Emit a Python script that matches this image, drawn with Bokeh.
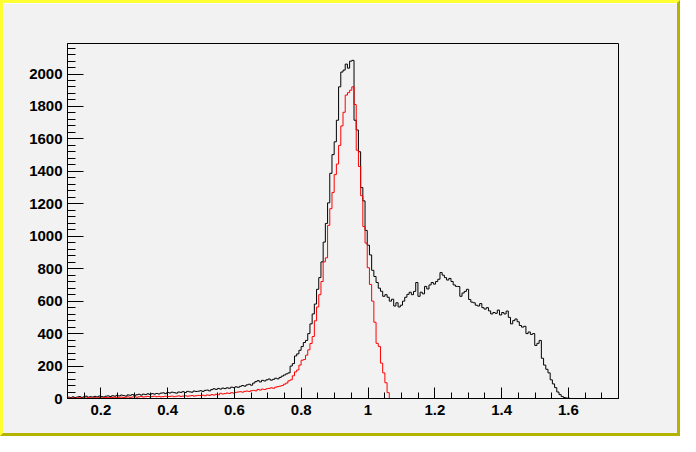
from bokeh.plotting import figure
from bokeh.models import Range1d, FixedTicker, CustomJSTickFormatter
from bokeh.embed import file_html
from bokeh.resources import INLINE
import numpy as np

# ---- data -------------------------------------------------------------
x_lo, x_hi = 0.1, 1.75
y_max = 2188

black_counts = [
    8, 5, 10, 6, 9, 12, 7, 10, 14, 8, 11, 9, 13, 10, 15, 12, 9, 14, 16, 12,
    17, 14, 19, 16, 21, 18, 15, 22, 20, 24, 19, 23, 26, 21, 27, 24, 29, 25, 30, 27,
    31, 28, 33, 35, 30, 37, 34, 39, 36, 33, 40, 38, 42, 37, 44, 41, 39, 46, 43, 45,
    48, 44, 50, 52, 47, 55, 60, 56, 62, 58, 64, 61, 66, 63, 70, 67, 72, 69, 75, 80,
    76, 84, 88, 82, 95, 104, 110, 102, 112, 108, 115, 120, 113, 118, 125, 121, 130, 138, 145, 152,
    158, 200, 215, 262, 275, 297, 320, 345, 358, 400, 460, 521, 582, 673, 745, 842, 964, 1079, 1206, 1388,
    1503, 1582, 1715, 1921, 2012, 2024, 2061, 2036, 2079, 2084, 1715, 1655, 1521, 1300, 1218, 1036, 945, 885, 790, 752,
    715, 680, 661, 630, 640, 624, 600, 612, 570, 590, 564, 575, 600, 624, 642, 655, 640, 660, 715, 630,
    655, 645, 691, 675, 700, 715, 705, 721, 735, 776, 760, 745, 730, 740, 721, 700, 691, 690, 630, 650,
    660, 673, 610, 594, 590, 575, 570, 585, 560, 551, 560, 540, 521, 530, 525, 545, 515, 530, 521, 539,
    500, 460, 480, 490, 473, 450, 440, 445, 400, 410, 395, 400, 327, 340, 358, 248, 206, 180, 158, 115,
    90, 67, 40, 24, 12, 6, 3, 2, 0, 0, 0, 0, 0, 0, 0, 0, 0, 0, 0, 0,
    0, 0, 0, 0, 0, 0, 0, 0, 0, 0,
]

red_counts = [
    3, 2, 4, 1, 3, 5, 2, 4, 3, 6, 4, 2, 5, 3, 6, 4, 5, 7, 5, 6,
    6, 8, 5, 7, 9, 6, 8, 10, 7, 9, 11, 8, 10, 12, 9, 11, 13, 10, 12, 14,
    11, 13, 10, 12, 14, 12, 13, 15, 11, 14, 16, 13, 15, 17, 14, 16, 18, 15, 17, 19,
    18, 20, 17, 22, 19, 24, 21, 26, 23, 32, 28, 30, 34, 31, 36, 33, 38, 40, 42, 39,
    44, 46, 43, 48, 50, 47, 56, 52, 58, 55, 60, 62, 66, 63, 70, 73, 76, 80, 88, 95,
    109, 115, 140, 164, 176, 206, 236, 240, 267, 300, 339, 382, 479, 564, 640, 721, 842, 867, 1067, 1170,
    1270, 1380, 1445, 1560, 1680, 1764, 1870, 1885, 1900, 1921, 1812, 1530, 1430, 1250, 1060, 958, 806, 703, 600, 470,
    340, 321, 218, 158, 97, 36, 0, 0, 0, 0, 0, 0, 0, 0, 0, 0, 0, 0, 0, 0,
    0, 0, 0, 0, 0, 0, 0, 0, 0, 0, 0, 0, 0, 0, 0, 0, 0, 0, 0, 0,
    0, 0, 0, 0, 0, 0, 0, 0, 0, 0, 0, 0, 0, 0, 0, 0, 0, 0, 0, 0,
    0, 0, 0, 0, 0, 0, 0, 0, 0, 0, 0, 0, 0, 0, 0, 0, 0, 0, 0, 0,
    0, 0, 0, 0, 0, 0, 0, 0, 0, 0, 0, 0, 0, 0, 0, 0, 0, 0, 0, 0,
    0, 0, 0, 0, 0, 0, 0, 0, 0, 0,
]

x_ticks = [0.2, 0.4, 0.6, 0.8, 1.0, 1.2, 1.4, 1.6]
x_minor = [round(0.1 + 0.05 * i, 2) for i in range(34)]
y_ticks = [0, 200, 400, 600, 800, 1000, 1200, 1400, 1600, 1800, 2000]
y_minor = [40 * i for i in range(55)]

# ---- figure -----------------------------------------------------------
nb = len(black_counts)
edges = np.linspace(x_lo, x_hi, nb + 1)

bg = "#f2f2f2"
p = figure(width=680, height=436, output_backend="svg", toolbar_location=None,
           x_range=Range1d(x_lo, x_hi), y_range=Range1d(0, y_max),
           min_border_left=64, min_border_right=65, min_border_top=40, min_border_bottom=41)
p.background_fill_color = bg
p.border_fill_color = bg
p.outline_line_color = "black"
p.outline_line_width = 1
p.grid.visible = False
p.styles = {"border-style": "solid", "border-width": "3px",
            "border-color": "#ffff33 #b3b300 #b3b300 #ffff33",
            "box-sizing": "border-box"}

p.step(x=edges, y=list(black_counts) + [black_counts[-1]], mode="after",
       line_color="black", line_width=1)
p.step(x=edges, y=list(red_counts) + [red_counts[-1]], mode="after",
       line_color="#ff0000", line_width=1)

fmt = CustomJSTickFormatter(code="return String(Math.round(tick*100)/100);")
for ax, ticks, minor, tin, mtin in ((p.xaxis[0], x_ticks, x_minor, 11, 6),
                                    (p.yaxis[0], y_ticks, y_minor, 16, 8)):
    ax.ticker = FixedTicker(ticks=ticks, minor_ticks=minor)
    ax.major_tick_in = tin
    ax.major_tick_out = 0
    ax.minor_tick_in = mtin
    ax.minor_tick_out = 0
    ax.major_label_text_font = "Liberation Sans"
    ax.major_label_text_font_style = "bold"
    ax.major_label_text_font_size = "15px"
    ax.major_label_text_color = "black"
    ax.axis_line_color = "black"
    ax.major_tick_line_color = "black"
    ax.minor_tick_line_color = "black"
p.xaxis[0].formatter = fmt
p.xaxis[0].major_label_standoff = 6
p.yaxis[0].major_label_standoff = 5

open("out.html", "w").write(file_html(p, INLINE))
